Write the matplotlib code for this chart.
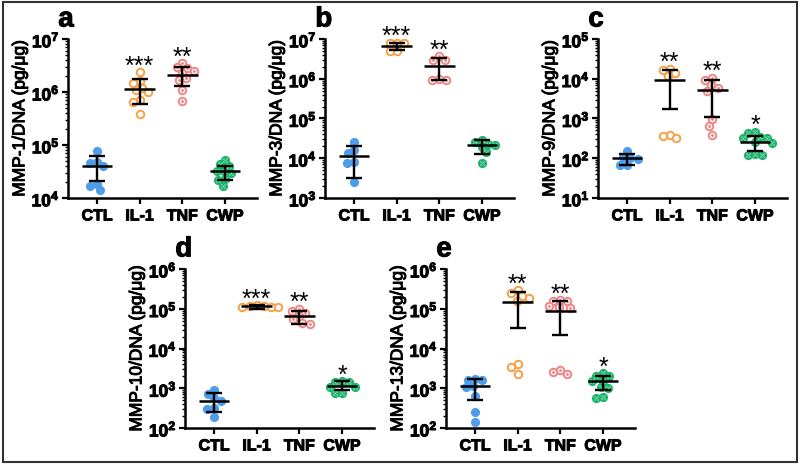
import numpy as np
import matplotlib
matplotlib.use("Agg")
import matplotlib.pyplot as plt
import matplotlib.patheffects as pe
from matplotlib.path import Path
from matplotlib.patches import Rectangle
from matplotlib.ticker import LogLocator, FuncFormatter, NullFormatter

plt.rcParams['font.family'] = ['Liberation Sans', 'DejaVu Sans']
plt.rcParams['font.weight'] = 'bold'

groups = ['CTL', 'IL-1', 'TNF', 'CWP']

# --- MMP-1 (a) ---
mmp1_ctl = [7.6e4, 4.7e4, 4.5e4, 4.0e4, 1.85e4, 1.7e4, 1.4e4]
mmp1_il1 = [2.35e6, 1.6e6, 1.5e6, 1.2e6, 1.1e6, 1.0e6, 7.2e5, 6.5e5, 3.8e5]
mmp1_tnf = [3.5e6, 2.9e6, 2.8e6, 2.5e6, 2.3e6, 1.8e6, 1.7e6, 1.1e6, 6.7e5]
mmp1_cwp = [5.3e4, 4.3e4, 4.1e4, 3.3e4, 3.2e4, 3.0e4, 2.3e4, 2.2e4, 1.7e4]
mmp1_mean = [4.1e4, 1.14e6, 2.1e6, 3.2e4]
mmp1_hi = [6.1e4, 1.76e6, 3.0e6, 4.1e4]
mmp1_lo = [2.1e4, 5.9e5, 1.27e6, 2.2e4]
mmp1_stars = ['', '***', '**', '']

# --- MMP-3 (b) ---
mmp3_ctl = [2.6e4, 1.65e4, 1.35e4, 8e3, 7.8e3, 2.5e3]
mmp3_il1 = [8.0e6, 7.9e6, 7.8e6, 5.1e6, 5.0e6]
mmp3_tnf = [3.7e6, 3.0e6, 2.9e6, 1.0e6, 9.5e5, 9.2e5]
mmp3_cwp = [2.9e4, 2.6e4, 2.3e4, 2.2e4, 1.9e4, 1.4e4, 7.5e3]
mmp3_mean = [1.16e4, 6.5e6, 2.1e6, 2.1e4]
mmp3_hi = [2.0e4, 7.9e6, 3.3e6, 2.8e4]
mmp3_lo = [3.2e3, 5.2e6, 9.4e5, 1.3e4]
mmp3_stars = ['', '***', '**', '']

# --- MMP-9 (c) ---
mmp9_ctl = [150, 105, 100, 98, 68, 66]
mmp9_il1 = [1.8e4, 1.7e4, 1.4e4, 1.2e4, 380, 360, 320]
mmp9_tnf = [1.05e4, 9.5e3, 7e3, 6e3, 5e3, 950, 650, 380]
mmp9_cwp = [460, 430, 340, 330, 320, 250, 240, 125, 120, 118]
mmp9_mean = [100, 9.5e3, 5.3e3, 250]
mmp9_hi = [130, 1.7e4, 9.5e3, 370]
mmp9_lo = [69, 1.7e3, 1.1e3, 150]
mmp9_stars = ['', '**', '**', '*']

# --- MMP-10 (d) ---
mmp10_ctl = [880, 700, 560, 480, 320, 300, 190]
mmp10_il1 = [1.22e5, 1.2e5, 1.18e5, 1.12e5, 1.1e5, 1.08e5]
mmp10_tnf = [1.0e5, 9e4, 8e4, 6.5e4, 5.5e4, 4.5e4, 4.2e4]
mmp10_cwp = [1.5e3, 1.45e3, 1.4e3, 1.1e3, 1.08e3, 780, 760]
mmp10_mean = [487, 1.15e5, 6.7e4, 1.16e3]
mmp10_hi = [760, 1.26e5, 9e4, 1.5e3]
mmp10_lo = [250, 1.0e5, 4.1e4, 8.9e2]
mmp10_stars = ['', '***', '**', '*']

# --- MMP-13 (e) ---
mmp13_ctl = [1.7e3, 1.65e3, 1.6e3, 1.15e3, 1.1e3, 650, 260, 140]
mmp13_il1 = [2.9e5, 2.5e5, 2.1e5, 1.9e5, 1.6e5, 4.0e3, 3.5e3, 2.3e3]
mmp13_tnf = [1.65e5, 1.6e5, 1.55e5, 1.15e5, 1.1e5, 1.05e5, 2.8e3, 2.5e3, 2.3e3]
mmp13_cwp = [2.4e3, 2.05e3, 2.0e3, 1.55e3, 1.5e3, 1.05e3, 1.0e3, 590, 570]
mmp13_mean = [1.16e3, 1.45e5, 8.9e4, 1.5e3]
mmp13_hi = [1.7e3, 2.6e5, 1.6e5, 2.0e3]
mmp13_lo = [500, 3.3e4, 2.2e4, 920]
mmp13_stars = ['', '**', '**', '*']

panels = [
    ('a', 'MMP-1/DNA (pg/μg)', [mmp1_ctl, mmp1_il1, mmp1_tnf, mmp1_cwp],
     mmp1_mean, mmp1_lo, mmp1_hi, mmp1_stars, (1e4, 1e7)),
    ('b', 'MMP-3/DNA (pg/μg)', [mmp3_ctl, mmp3_il1, mmp3_tnf, mmp3_cwp],
     mmp3_mean, mmp3_lo, mmp3_hi, mmp3_stars, (1e3, 1e7)),
    ('c', 'MMP-9/DNA (pg/μg)', [mmp9_ctl, mmp9_il1, mmp9_tnf, mmp9_cwp],
     mmp9_mean, mmp9_lo, mmp9_hi, mmp9_stars, (1e1, 1e5)),
    ('d', 'MMP-10/DNA (pg/μg)', [mmp10_ctl, mmp10_il1, mmp10_tnf, mmp10_cwp],
     mmp10_mean, mmp10_lo, mmp10_hi, mmp10_stars, (1e2, 1e6)),
    ('e', 'MMP-13/DNA (pg/μg)', [mmp13_ctl, mmp13_il1, mmp13_tnf, mmp13_cwp],
     mmp13_mean, mmp13_lo, mmp13_hi, mmp13_stars, (1e2, 1e6)),
]

# axes placement in pixels: left, top (800x466 canvas)
W, H = 800, 466
AX_W, AX_H = 189, 159
corners = [(68, 39), (325, 39), (598, 39), (185, 269), (446, 269)]

BLUE = '#4f9de8'
ORANGE = '#f7a045'
PINK = '#f08585'
GREEN = '#1ab36a'

MS = 6.6                  # marker diameter in points
DPX = MS * 100 / 72 * 0.78  # swarm spacing in pixels (slight overlap, like Prism)
HEAVY = [pe.withStroke(linewidth=0.7, foreground='black')]

# small white dots pattern for CWP markers
dot_offsets = [(-0.33, 0.33), (0.33, 0.33), (-0.33, -0.33), (0.33, -0.33), (0.0, 0.0)]
dot_r = 0.13
circ = Path.unit_circle()
dot_path = Path.make_compound_path(*[
    Path(circ.vertices * dot_r + np.array(o), circ.codes) for o in dot_offsets])
dot_extent = 0.33 + dot_r


def swarm_x(ax, xc, vals):
    pts = ax.transData.transform(np.column_stack([np.full(len(vals), xc), vals]))
    ys = pts[:, 1]
    ppu = ax.transData.transform((1, vals[0]))[0] - ax.transData.transform((0, vals[0]))[0]
    order = np.argsort(-ys)
    placed = []
    xs = np.zeros(len(vals))
    for i in order:
        y = ys[i]
        cands = [0.0]
        for px, py in placed:
            dy = abs(y - py)
            if dy < DPX:
                w = np.sqrt(DPX ** 2 - dy ** 2)
                cands += [px - w, px + w]
        cands.sort(key=abs)
        for c in cands:
            if all((c - px) ** 2 + (y - py) ** 2 >= DPX ** 2 - 1e-6 for px, py in placed):
                xs[i] = c
                break
        placed.append((xs[i], y))
    return xc + xs / ppu


fig = plt.figure(figsize=(8, 4.66), dpi=100)
fig.patches.append(Rectangle((3 / W, 1 - 462 / H), 794 / W, 460 / H,
                             transform=fig.transFigure, fill=False,
                             lw=1.5, ec='#333333'))

axes = []
for (letter, ylab, data, mean, lo, hi, stars, ylim), (lx, ty) in zip(panels, corners):
    ax = fig.add_axes([lx / W, 1 - (ty + AX_H) / H, AX_W / W, AX_H / H])
    axes.append(ax)
    ax.set_yscale('log')
    ax.set_xlim(-0.68, 3.75)
    ax.set_ylim(*ylim)

    for i, vals in enumerate(data):
        xs = swarm_x(ax, i, vals)
        if i == 0:
            ax.scatter(xs, vals, s=MS ** 2, c=BLUE, lw=0, zorder=3)
        elif i == 1:
            ax.scatter(xs, vals, s=(MS - 1.2) ** 2, facecolors='white',
                       edgecolors=ORANGE, lw=1.4, zorder=3)
        elif i == 2:
            ax.scatter(xs, vals, s=(MS - 1.2) ** 2, facecolors='white',
                       edgecolors=PINK, lw=1.4, zorder=3)
            ax.scatter(xs, vals, s=(MS * 0.32) ** 2, c=PINK, lw=0, zorder=4)
        else:
            ax.scatter(xs, vals, s=MS ** 2, c=GREEN, lw=0, zorder=3)
            ax.scatter(xs, vals, s=(MS * dot_extent) ** 2, c='white',
                       marker=dot_path, lw=0, zorder=4)

    xpos = np.arange(len(groups))
    mean = np.array(mean)
    ax.errorbar(xpos, mean, yerr=[mean - np.array(lo), np.array(hi) - mean],
                fmt='none', ecolor='black', elinewidth=1.7, capsize=6,
                capthick=1.7, zorder=5)
    ax.hlines(mean, xpos - 0.36, xpos + 0.36, colors='black', lw=1.8, zorder=5)

    for i, st in enumerate(stars):
        if st:
            ax.annotate(st, xy=(i, max(data[i])), xytext=(0, -1),
                        textcoords='offset points', ha='center', va='baseline',
                        fontsize=18, fontweight='normal', zorder=6)

    for s in ['top', 'right']:
        ax.spines[s].set_visible(False)
    for s in ['left', 'bottom']:
        ax.spines[s].set_linewidth(1.8)

    ax.yaxis.set_major_locator(LogLocator(base=10, numticks=10))
    ax.yaxis.set_minor_locator(LogLocator(base=10, subs=np.arange(2, 10), numticks=10))
    ax.yaxis.set_minor_formatter(NullFormatter())
    ax.yaxis.set_major_formatter(FuncFormatter(
        lambda v, _: r'$\mathdefault{10^{%d}}$' % round(np.log10(v))))
    ax.tick_params(axis='y', which='major', length=4, width=1.6, labelsize=12.5, pad=2)
    ax.tick_params(axis='y', which='minor', length=2.2, width=1.0)
    ax.tick_params(axis='x', which='major', length=4.5, width=1.6, labelsize=11.5, pad=3)

    ax.set_xticks(xpos)
    ax.set_xticklabels(groups)
    ax.set_ylabel(ylab, fontsize=12.5, labelpad=3, path_effects=HEAVY)

    ax.annotate(letter, xy=(0, 1), xycoords='axes fraction', xytext=(-7, 9),
                textcoords='offset points', ha='left', va='baseline',
                fontsize=20, path_effects=HEAVY)

fig.canvas.draw()
for ax in axes:
    for t in ax.get_xticklabels() + ax.get_yticklabels():
        t.set_path_effects(HEAVY)

fig.savefig('out.png', dpi=100)
